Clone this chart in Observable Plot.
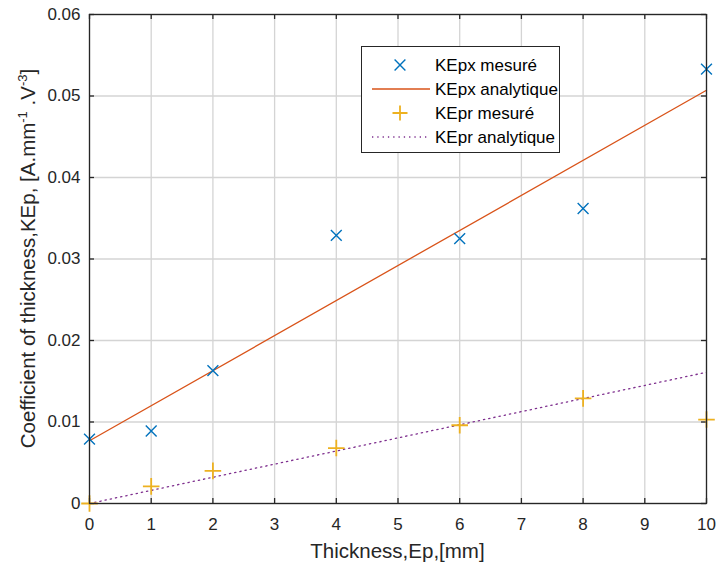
<!DOCTYPE html>
<html><head><meta charset="utf-8">
<script src="https://cdn.jsdelivr.net/npm/d3@7"></script>
<script src="https://cdn.jsdelivr.net/npm/@observablehq/plot@0.6"></script>
<style>body{margin:0;background:#fff;} svg{font-family:"Liberation Sans",Arial,sans-serif;}</style>
</head><body><div id="chart"></div>
<script>
const thickness = [0, 1, 2, 4, 6, 8, 10];
const kepxMeasured = [0.0079, 0.0089, 0.0163, 0.0329, 0.0325, 0.0362, 0.0533];
const keprMeasured = [0.0000, 0.0021, 0.0040, 0.0068, 0.0096, 0.0129, 0.0103];
const thicknessAnalytic = [0, 10];
const kepxAnalytic = [0.0077, 0.0507];
const keprAnalytic = [0.0000, 0.0161];
const xTicks = [0,1,2,3,4,5,6,7,8,9,10];
const yTicks = [0,0.01,0.02,0.03,0.04,0.05,0.06];
const legendLabels = ["KEpx mesuré","KEpx analytique","KEpr mesuré","KEpr analytique"];
const colors = ["#0072BD","#D95319","#EDB120","#7E2F8E"];

const W = 716, H = 568, mL = 89, mR = 10, mT = 14, mB = 65;
const tickLenY = 5 / (H - mT - mB) * 0.06;
const tickLenX = 5 / (W - mL - mR) * 10;

const measX = thickness.map((t,i)=>({x:t, y:kepxMeasured[i]}));
const measR = thickness.map((t,i)=>({x:t, y:keprMeasured[i]}));
const anaX = thicknessAnalytic.map((t,i)=>({x:t, y:kepxAnalytic[i]}));
const anaR = thicknessAnalytic.map((t,i)=>({x:t, y:keprAnalytic[i]}));

const plot = Plot.plot({
  width: W, height: H,
  marginLeft: mL, marginRight: mR, marginTop: mT, marginBottom: mB,
  style: {fontFamily: '"Liberation Sans", Arial, sans-serif', fontSize: "17px", color: "#262626"},
  x: {domain: [0, 10], ticks: xTicks, label: null},
  y: {domain: [0, 0.06], ticks: yTicks, label: null},
  marks: [
    Plot.gridX(xTicks, {stroke: "#d4d4d4", strokeOpacity: 1, strokeWidth: 1.3}),
    Plot.gridY(yTicks, {stroke: "#d4d4d4", strokeOpacity: 1, strokeWidth: 1.3}),
    Plot.ruleX(xTicks, {x: d=>d, y1: 0, y2: tickLenY, stroke: "#262626", strokeWidth: 1.3}),
    Plot.ruleX(xTicks, {x: d=>d, y1: 0.06 - tickLenY, y2: 0.06, stroke: "#262626", strokeWidth: 1.3}),
    Plot.ruleY(yTicks, {y: d=>d, x1: 0, x2: tickLenX, stroke: "#262626", strokeWidth: 1.3}),
    Plot.ruleY(yTicks, {y: d=>d, x1: 10 - tickLenX, x2: 10, stroke: "#262626", strokeWidth: 1.3}),
    Plot.axisX(xTicks, {tickSize: 0, tickPadding: 14, fontSize: 17, fill: "#262626"}),
    Plot.axisY(yTicks, {tickSize: 0, tickPadding: 9, fontSize: 17, fill: "#262626", tickFormat: d => d === 0 ? "0" : d3.format(".2f")(d)}),
    Plot.line(anaX, {x: "x", y: "y", stroke: colors[1], strokeWidth: 1.3}),
    Plot.line(anaR, {x: "x", y: "y", stroke: colors[3], strokeWidth: 1.3, strokeDasharray: "1.3,4"}),
    Plot.dot(measX, {x: "x", y: "y", symbol: "times", r: 5, stroke: colors[0], strokeWidth: 1.4}),
    Plot.dot(measR, {x: "x", y: "y", symbol: "plus", r: 5.4, stroke: colors[2], strokeWidth: 1.8}),
    Plot.frame({stroke: "#262626", strokeWidth: 1.3})
  ]
});
document.getElementById("chart").appendChild(plot);

const svg = d3.select(plot);
// X label
svg.append("text").attr("x", (mL + W - mR)/2).attr("y", 558).attr("text-anchor", "middle")
  .attr("font-size", 20.5).attr("fill", "#262626").text("Thickness,Ep,[mm]");
// Y label with superscripts
const yl = svg.append("text").attr("transform", `translate(35,${(mT + H - mB)/2}) rotate(-90)`)
  .attr("text-anchor", "middle").attr("font-size", 20.5).attr("fill", "#262626");
yl.append("tspan").text("Coefficient of thickness,KEp, [A.mm");
yl.append("tspan").attr("font-size", 13).attr("dy", -8).text("-1");
yl.append("tspan").attr("dy", 8).text(" .V");
yl.append("tspan").attr("font-size", 13).attr("dy", -8).text("-3");
yl.append("tspan").attr("dy", 8).text("]");

// Legend
const lg = svg.append("g").attr("text-anchor", "start");
lg.append("rect").attr("x", 361.5).attr("y", 46.5).attr("width", 198).attr("height", 106)
  .attr("fill", "#fff").attr("stroke", "#262626").attr("stroke-width", 1);
const rows = [65, 89, 113, 137];
rows.forEach((ry, i) => {
  lg.append("text").attr("x", 435).attr("y", ry + 6).attr("font-size", 17).attr("fill", "#000").text(legendLabels[i]);
});
lg.append("path").attr("d", `M${400-5.4},${rows[0]-5.4}L${400+5.4},${rows[0]+5.4}M${400-5.4},${rows[0]+5.4}L${400+5.4},${rows[0]-5.4}`)
  .attr("stroke", colors[0]).attr("stroke-width", 1.4);
lg.append("line").attr("x1", 372).attr("x2", 430).attr("y1", rows[1]).attr("y2", rows[1])
  .attr("stroke", colors[1]).attr("stroke-width", 1.3);
lg.append("path").attr("d", `M${400-7.5},${rows[2]}H${400+7.5}M400,${rows[2]-7.5}V${rows[2]+7.5}`)
  .attr("stroke", colors[2]).attr("stroke-width", 1.8);
lg.append("line").attr("x1", 372).attr("x2", 430).attr("y1", rows[3]).attr("y2", rows[3])
  .attr("stroke", colors[3]).attr("stroke-width", 1.3).attr("stroke-dasharray", "1.3,4");
</script></body></html>
